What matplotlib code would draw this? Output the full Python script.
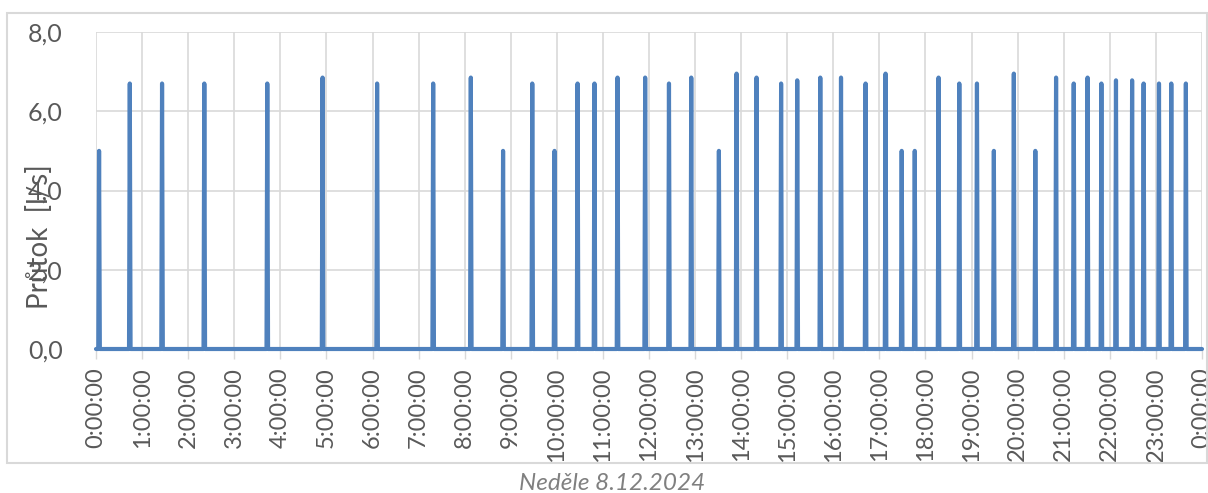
import matplotlib
matplotlib.use('Agg')
from matplotlib import pyplot as plt
from matplotlib.patches import Rectangle

# pump events: start time (H:MM) and peak flow [l/s]
event_times = ['0:04', '0:44', '1:26', '2:21', '3:43', '4:55', '6:06', '7:19',
               '8:08', '8:50', '9:28', '9:57', '10:27', '10:49', '11:19', '11:55',
               '12:26', '12:55', '13:31', '13:54', '14:20', '14:52', '15:13', '15:43',
               '16:10', '16:42', '17:08', '17:29', '17:46', '18:17', '18:44', '19:07',
               '19:29', '19:55', '20:23', '20:50', '21:13', '21:31', '21:49', '22:08',
               '22:29', '22:44', '23:04', '23:20', '23:39']
event_flow = [5.0, 6.7, 6.7, 6.7, 6.7, 6.85, 6.7, 6.7,
              6.85, 5.0, 6.7, 5.0, 6.7, 6.7, 6.85, 6.85,
              6.7, 6.85, 5.0, 6.95, 6.85, 6.7, 6.78, 6.85,
              6.85, 6.7, 6.95, 5.0, 5.0, 6.85, 6.7, 6.7,
              5.0, 6.95, 5.0, 6.85, 6.7, 6.85, 6.7, 6.78,
              6.78, 6.7, 6.7, 6.7, 6.7]

x_ticks = list(range(25))
x_labels = ['%d:00:00' % h for h in range(24)] + ['0:00:00']
y_ticks = [0, 2, 4, 6, 8]
y_labels = ['0,0', '2,0', '4,0', '6,0', '8,0']

step = 1 / 60.0
xs = [0.0]
ys = [0.0]
for t, v in zip(event_times, event_flow):
    h, m = t.split(':')
    th = int(h) + int(m) / 60.0
    xs += [th - step, th, th + step]
    ys += [0.0, v, 0.0]
xs.append(24.0)
ys.append(0.0)

plt.rcParams['font.family'] = ['Lato', 'DejaVu Sans']
grey = '#595959'
grid = '#d9d9d9'

fig = plt.figure(figsize=(12.08, 4.93), dpi=100)
W, H = 1208, 493
ax = fig.add_axes([96 / W, 1 - 349 / H, (1202 - 96) / W, (349 - 32) / H])

fig.patches.append(Rectangle((7 / W, 1 - 463 / H), 1200 / W, 450 / H,
                             transform=fig.transFigure, fill=False,
                             edgecolor=grid, lw=1.5))

ax.plot(xs, ys, color='#4f81bd', lw=3, clip_on=False, zorder=3,
        solid_joinstyle='round', solid_capstyle='round')

ax.set_xlim(0, 24)
ax.set_ylim(0, 8)
ax.set_xticks(x_ticks)
ax.set_xticklabels(x_labels, rotation=90, fontsize=17, color=grey)
ax.set_yticks(y_ticks)
ax.set_yticklabels(y_labels, fontsize=18, color=grey)
ax.tick_params(axis='x', length=7, width=1, color=grid, pad=6)
ax.tick_params(axis='y', length=0, pad=24)
ax.grid(True, color=grid, lw=1.2)
ax.set_axisbelow(True)
for s in ax.spines.values():
    s.set_visible(False)

fig.text(40 / W, 1 - 237 / H, 'Průtok  [l/s]', rotation=90, fontsize=20,
         color=grey, ha='center', va='center')
fig.text(612 / W, 1 - 483 / H, 'Neděle 8.12.2024', fontsize=17.5, style='italic',
         color='#808080', ha='center', va='center')

fig.savefig('out.png', dpi=100)
